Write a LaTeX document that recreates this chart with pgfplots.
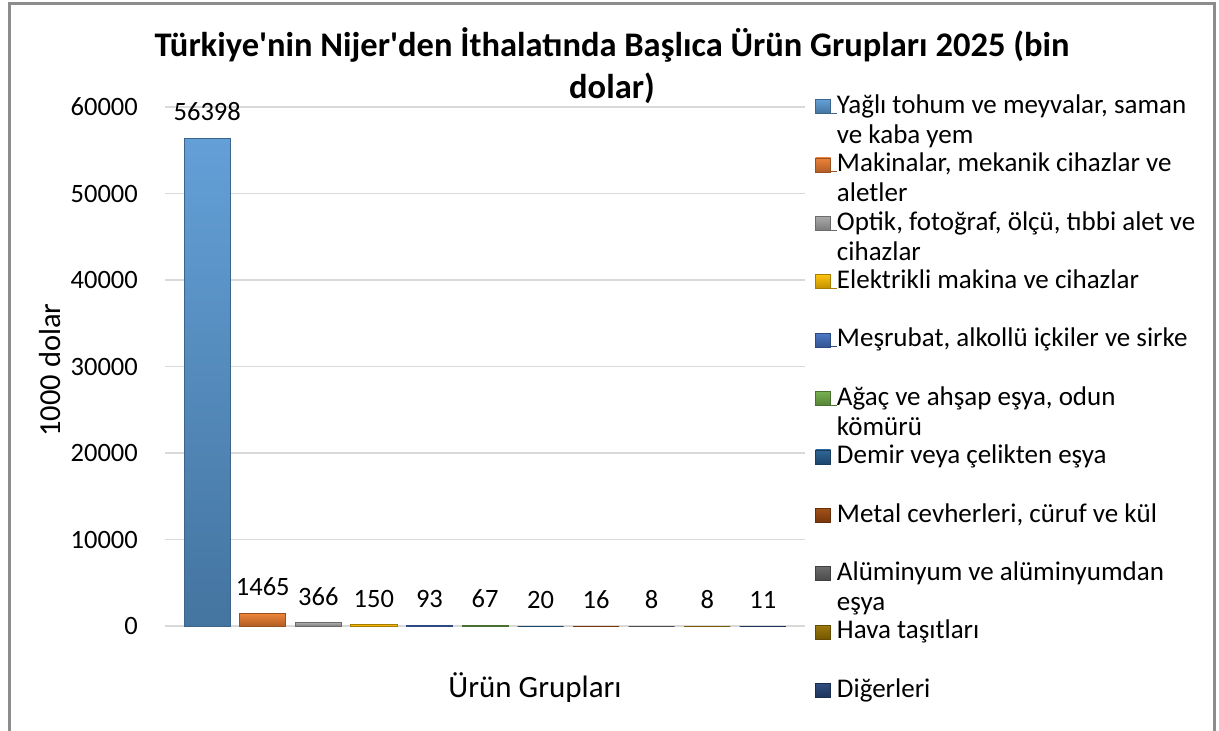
\documentclass[border=0pt]{standalone}
\usepackage{pgfplots}
\pgfplotsset{compat=1.18}
\usepackage{fontspec}
\setmainfont{Carlito}[Ligatures=TeXOff]
\definecolor{c1}{HTML}{5B9BD5}
\definecolor{c2}{HTML}{ED7D31}
\definecolor{c3}{HTML}{A5A5A5}
\definecolor{c4}{HTML}{FFC000}
\definecolor{c5}{HTML}{4472C4}
\definecolor{c6}{HTML}{70AD47}
\definecolor{c7}{HTML}{255E91}
\definecolor{c8}{HTML}{9E480E}
\definecolor{c9}{HTML}{636363}
\definecolor{c10}{HTML}{997300}
\definecolor{c11}{HTML}{264478}
\definecolor{gridc}{HTML}{D9D9D9}
\definecolor{framec}{HTML}{8C8C8C}
\newcommand\lgd[1]{\parbox[t]{380pt}{\raggedright #1}}
\pgfplotsset{
  mybar/.style={ybar, bar width=0.83, bar shift=0pt,
     top color=#1!95!white, bottom color=#1!75!black, draw=#1!65!black, line width=0.8pt},
}
\begin{document}
\begin{tikzpicture}[x=1pt,y=1pt]
\useasboundingbox (0,0) rectangle (1219,-731);
\draw[framec, line width=3pt] (9,-731) -- (9,-3) -- (1214,-3) -- (1214,-731);
\node[font=\fontsize{34.5}{40}\selectfont\bfseries, anchor=base] at (612,-56) {Türkiye'nin Nijer'den İthalatında Başlıca Ürün Grupları 2025 (bin};
\node[font=\fontsize{34.5}{40}\selectfont\bfseries, anchor=base] at (612,-98) {dolar)};
\node[font=\fontsize{30.5}{36}\selectfont, anchor=base, rotate=90] at (60,-370) {1000 dolar};
\node[font=\fontsize{31}{36}\selectfont, anchor=base] at (535,-697) {Ürün Grupları};
\begin{axis}[
  at={(165pt,-626pt)}, anchor=south west,
  width=640pt, height=519pt, scale only axis,
  xmin=-0.76, xmax=10.76, ymin=0, ymax=60000,
  ytick={0,10000,20000,30000,40000,50000,60000},
  xtick=\empty,
  ymajorgrids, grid style={draw=gridc, line width=1.5pt},
  axis line style={draw=none},
  major tick length=0pt,
  tick style={draw=none},
  scaled y ticks=false,
  /pgf/number format/assume math mode=true,
  /pgf/number format/1000 sep={},
  y tick label style={font=\fontsize{26.5}{30}\selectfont, inner sep=0pt, anchor=east, xshift=-27pt},
  clip=false,
  nodes near coords={\pgfmathprintnumber[fixed,precision=0,1000 sep={}]{\pgfplotspointmeta}},
  every node near coord/.append style={font=\fontsize{26.5}{30}\selectfont, anchor=south, inner sep=0pt, yshift=17pt, text=black},
  legend style={at={(1.0156,1.0231)}, anchor=north west, draw=none, fill=none, inner sep=0pt, row sep=0pt,
     font=\fontsize{27}{30}\selectfont,
     nodes={inner sep=0pt, text height=18pt, text depth=40.4pt},
     cells={anchor=west}},
  legend image code/.code={
     \path (0pt,11.2pt) -- (21pt,11.2pt);
     \draw[#1, line width=0.6pt] (0pt,11pt) rectangle (15pt,25pt);},
]
\addplot[mybar=c1] coordinates {(0,56398)};
\addlegendentry{\lgd{Yağlı tohum ve meyvalar, saman\\ve kaba yem}}
\addplot[mybar=c2] coordinates {(1,1465)};
\addlegendentry{\lgd{Makinalar, mekanik cihazlar ve\\aletler}}
\addplot[mybar=c3] coordinates {(2,366)};
\addlegendentry{\lgd{Optik, fotoğraf, ölçü, tıbbi alet ve\\cihazlar}}
\addplot[mybar=c4] coordinates {(3,150)};
\addlegendentry{\lgd{Elektrikli makina ve cihazlar}}
\addplot[mybar=c5] coordinates {(4,93)};
\addlegendentry{\lgd{Meşrubat, alkollü içkiler ve sirke}}
\addplot[mybar=c6] coordinates {(5,67)};
\addlegendentry{\lgd{Ağaç ve ahşap eşya, odun\\kömürü}}
\addplot[mybar=c7, draw=none] coordinates {(6,20)};
\addlegendentry{\lgd{Demir veya çelikten eşya}}
\addplot[mybar=c8, draw=none] coordinates {(7,16)};
\addlegendentry{\lgd{Metal cevherleri, cüruf ve kül}}
\addplot[mybar=c9, draw=none] coordinates {(8,8)};
\addlegendentry{\lgd{Alüminyum ve alüminyumdan\\eşya}}
\addplot[mybar=c10, draw=none] coordinates {(9,8)};
\addlegendentry{\lgd{Hava taşıtları}}
\addplot[mybar=c11, draw=none] coordinates {(10,11)};
\addlegendentry{\lgd{Diğerleri}}
\end{axis}
\end{tikzpicture}
\end{document}
